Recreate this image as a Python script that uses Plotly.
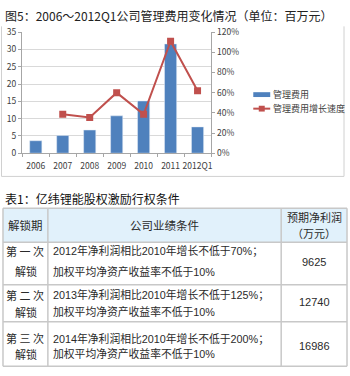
import plotly.graph_objects as go

W, H = 350, 376

# ---- chart data ----
years = ["2006", "2007", "2008", "2009", "2010", "2011", "2012Q1"]
expense = [3.6, 5.1, 6.7, 10.8, 15.1, 31.6, 7.6]
growth = [None, 0.385, 0.355, 0.60, 0.385, 1.11, 0.62]
series_names = ["管理费用", "管理费用增长速度"]
chart_title = "图5：2006～2012Q1公司管理费用变化情况（单位：百万元）"

# ---- table data ----
table_title = "表1：亿纬锂能股权激励行权条件"
header = ["解锁期", "公司业绩条件", "预期净利润", "（万元）"]
periods = ["第 一 次", "第 二 次", "第 三 次"]
cond1 = ["2012年净利润相比2010年增长不低于70%；",
         "2013年净利润相比2010年增长不低于125%；",
         "2014年净利润相比2010年增长不低于200%；"]
cond2 = ["加权平均净资产收益率不低于10%"] * 3
profits = ["9625", "12740", "16986"]

BLUE = "#4f81bd"
RED = "#c0504d"
FONT = "Noto Sans CJK SC"
BODYFONT = "Liberation Sans, Noto Sans CJK SC"


def px(x):
    return x / W


def py(y):
    return 1 - y / H


fig = go.Figure()
fig.add_trace(go.Bar(x=years, y=expense, name=series_names[0], marker_color=BLUE,
                     width=0.45, showlegend=False))
fig.add_trace(go.Scatter(x=years, y=growth, name=series_names[1], yaxis="y2",
                         mode="lines+markers", line=dict(color=RED, width=2),
                         marker=dict(symbol="square", size=7, color=RED),
                         showlegend=False))

shapes = []
ann = []
GRID = "#c8c8c8"

# chart frame
for (x0, y0, x1, y1) in [(1.5, 20, 1.5, 175), (345, 20, 345, 175), (1.5, 175, 345, 175)]:
    shapes.append(dict(type="line", xref="paper", yref="paper", x0=px(x0), y0=py(y0),
                       x1=px(x1), y1=py(y1), line=dict(color="#d0d0d0", width=1)))

# manual legend
shapes.append(dict(type="rect", xref="paper", yref="paper", x0=px(254), x1=px(271),
                   y0=py(88), y1=py(93), fillcolor=BLUE, line=dict(width=0)))
shapes.append(dict(type="line", xref="paper", yref="paper", x0=px(254), x1=px(271),
                   y0=py(105), y1=py(105), line=dict(color=RED, width=2)))
shapes.append(dict(type="rect", xref="paper", yref="paper", x0=px(259.5), x1=px(265.5),
                   y0=py(102), y1=py(108), fillcolor=RED, line=dict(width=0)))
ann.append(dict(text=series_names[0], x=px(272), y=py(90.5), xanchor="left", yanchor="middle",
                font=dict(size=9, color="#404040", family=FONT)))
ann.append(dict(text=series_names[1], x=px(272), y=py(105), xanchor="left", yanchor="middle",
                font=dict(size=9, color="#404040", family=FONT)))

# titles
ann.append(dict(text=chart_title, x=px(3), y=py(9), xanchor="left", yanchor="middle",
                font=dict(size=12, color="#222222", family=FONT)))
ann.append(dict(text=table_title, x=px(3), y=py(198), xanchor="left", yanchor="middle",
                font=dict(size=12, color="#111111", family=FONT)))

# table
TL, C1, C2, TR = 3, 48, 282, 348
TT, HB = 208, 243
rows = [(243, 287), (287, 325), (325, 371)]
shapes.append(dict(type="rect", xref="paper", yref="paper", x0=px(TL), x1=px(TR),
                   y0=py(TT), y1=py(HB), fillcolor="#e1f1fb", line=dict(width=0), layer="below"))
for yy in [TT, HB] + [r[1] for r in rows]:
    shapes.append(dict(type="line", xref="paper", yref="paper", x0=px(TL), x1=px(TR),
                       y0=py(yy), y1=py(yy), line=dict(color=GRID, width=1.5)))
for xx in [TL, C1, C2, TR]:
    shapes.append(dict(type="line", xref="paper", yref="paper", x0=px(xx), x1=px(xx),
                       y0=py(TT), y1=py(rows[-1][1]), line=dict(color=GRID, width=1.5)))

TC = "#2a2a2a"
ann.append(dict(text=header[0], x=px(26), y=py(225.5), xanchor="center", yanchor="middle",
                font=dict(size=11.5, color=TC, family=FONT)))
ann.append(dict(text=header[1], x=px(165), y=py(225.5), xanchor="center", yanchor="middle",
                font=dict(size=11.5, color=TC, family=FONT)))
ann.append(dict(text=header[2], x=px(315), y=py(216.5), xanchor="center", yanchor="middle",
                font=dict(size=11, color=TC, family=FONT)))
ann.append(dict(text=header[3], x=px(315), y=py(233.5), xanchor="center", yanchor="middle",
                font=dict(size=11, color=TC, family=FONT)))

line1_y = [252, 297, 342]
line2_y = [273, 315, 358]
num_y = [263, 305, 350]
for i in range(3):
    ann.append(dict(text=periods[i], x=px(25.5), y=py(line1_y[i]), xanchor="center", yanchor="middle",
                    font=dict(size=11, color=TC, family=FONT)))
    ann.append(dict(text="解锁", x=px(26), y=py(line2_y[i]), xanchor="center", yanchor="middle",
                    font=dict(size=11, color=TC, family=FONT)))
    ann.append(dict(text=cond1[i], x=px(51), y=py(line1_y[i]), xanchor="left", yanchor="middle",
                    font=dict(size=10.8, color=TC, family=BODYFONT)))
    ann.append(dict(text=cond2[i], x=px(51), y=py(line2_y[i]), xanchor="left", yanchor="middle",
                    font=dict(size=10.8, color=TC, family=BODYFONT)))
    ann.append(dict(text=profits[i], x=px(315), y=py(num_y[i]), xanchor="center", yanchor="middle",
                    font=dict(size=11, color=TC, family=BODYFONT)))

for a in ann:
    a.update(xref="paper", yref="paper", showarrow=False)

TICKF = dict(size=8.5, color="#404040", family=FONT)
fig.update_layout(
    width=W, height=H, margin=dict(l=0, r=0, t=0, b=0),
    paper_bgcolor="white", plot_bgcolor="white",
    xaxis=dict(domain=[px(22), px(212)], type="category", tickson="boundaries",
               ticks="outside", ticklen=3, tickcolor="#a6a6a6", showline=True,
               linecolor="#a6a6a6", showgrid=False, tickfont=TICKF, tickangle=0,
               ticklabelstandoff=5),
    yaxis=dict(domain=[py(151), py(26)], range=[0, 35], dtick=5, showgrid=True,
               gridcolor="#d9d9d9", ticks="outside", ticklen=3, tickcolor="#a6a6a6",
               showline=True, linecolor="#a6a6a6", tickfont=TICKF, zeroline=False),
    yaxis2=dict(overlaying="y", side="right", range=[0, 1.2], dtick=0.2, tickformat=".0%",
                showgrid=False, ticks="outside", ticklen=3, tickcolor="#a6a6a6",
                showline=True, linecolor="#a6a6a6", tickfont=TICKF, zeroline=False),
    shapes=shapes, annotations=ann, bargap=0.5,
)

fig.write_html("out.html")
